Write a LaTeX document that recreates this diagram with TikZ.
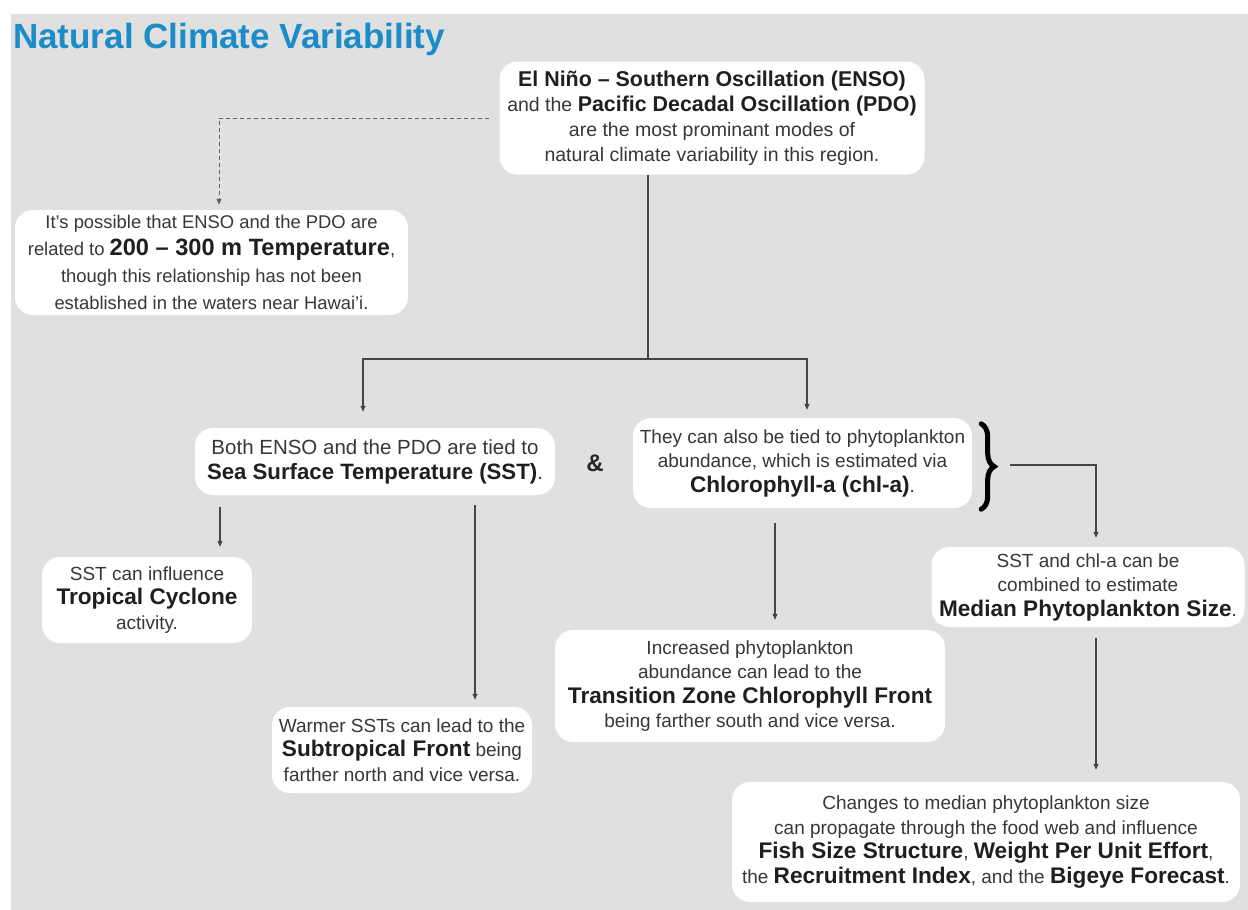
\documentclass[tikz,border=0pt]{standalone}
\usepackage{fontspec}
\setmainfont{Liberation Sans}
\usetikzlibrary{arrows.meta, decorations.pathreplacing}
\definecolor{ncvblue}{RGB}{28,140,200}
\definecolor{ncvgray}{RGB}{224,224,224}
\definecolor{ncvtext}{RGB}{55,55,55}
\definecolor{ncvline}{RGB}{70,70,70}
% bold key term, optional size
\newcommand{\hi}[2][22.6]{{\fontsize{#1}{24.5}\selectfont\bfseries\color{black!88}#2}}

\begin{document}
\begin{tikzpicture}[
    x=1pt, y=-1pt,
    >={Triangle[length=6pt,width=5pt]},
    %% ── node styles ──────────────────────────────────────────────────────────
    box/.style={
        fill=white, rounded corners=18pt, align=center,
        inner sep=4pt, text=ncvtext,
        font=\fontsize{19}{24.5}\selectfont
    },
    %% ── edge styles ──────────────────────────────────────────────────────────
    wire/.style={draw=ncvline, line width=1.1pt},
    link/.style={->, draw=ncvline, line width=1.1pt},
    guess/.style={->, draw=ncvline!85, line width=1pt, dash pattern=on 4pt off 3pt},
]

%% ── Background and title ────────────────────────────────────────────────────
\fill[white] (0,0) rectangle (1248,910);
\fill[ncvgray] (11,14) rectangle (1248,910);
\useasboundingbox (0,0) rectangle (1248,910);

\node[anchor=base west, inner sep=0pt, text=ncvblue,
      font=\fontsize{35}{40}\selectfont\bfseries] (title) at (13,48)
    {Natural Climate Variability};

%% ── Boxes ───────────────────────────────────────────────────────────────────
\node[box, minimum width=425pt, minimum height=113pt,
      font=\fontsize{19.5}{25}\selectfont] (enso) at (712,118)
    {\hi[21.4]{El Niño -- Southern Oscillation (ENSO)}\\
     and the \hi[21.4]{Pacific Decadal Oscillation (PDO)}\\
     are the most prominant modes of\\
     natural climate variability in this region.};

\node[box, minimum width=393pt, minimum height=105pt,
      font=\fontsize{18.4}{27}\selectfont] (temp) at (211.5,262.5)
    {It's possible that ENSO and the PDO are\\
     related to \hi[23.6]{200 -- 300 m Temperature},\\
     though this relationship has not been\\
     established in the waters near Hawai'i.};

\node[box, minimum width=360pt, minimum height=67pt,
      font=\fontsize{20.5}{25}\selectfont] (sst) at (375,461.5)
    {Both ENSO and the PDO are tied to\\
     \hi[22.2]{Sea Surface Temperature (SST)}.};

\node[font=\fontsize{24}{24}\selectfont\bfseries, text=black!85] (amp) at (595,463) {\&};

\node[box, minimum width=339pt, minimum height=90pt] (chl) at (802.5,463)
    {They can also be tied to phytoplankton\\
     abundance, which is estimated via\\
     \hi{Chlorophyll-a (chl-a)}.};

\node[box, minimum width=313pt, minimum height=80pt] (median) at (1088,587)
    {SST and chl-a can be\\
     combined to estimate\\
     \hi{Median Phytoplankton Size}.};

\node[box, minimum width=210pt, minimum height=86pt] (trop) at (147,600)
    {SST can influence\\
     \hi{Tropical Cyclone}\\
     activity.};

\node[box, minimum width=260pt, minimum height=86pt] (subt) at (402,750)
    {Warmer SSTs can lead to the\\
     \hi{Subtropical Front} being\\
     farther north and vice versa.};

\node[box, minimum width=390pt, minimum height=112pt] (tzcf) at (750,686)
    {Increased phytoplankton\\
     abundance can lead to the\\
     \hi{Transition Zone Chlorophyll Front}\\
     being farther south and vice versa.};

\node[box, minimum width=508pt, minimum height=120pt] (fish) at (986,842)
    {Changes to median phytoplankton size\\
     can propagate through the food web and influence\\
     \hi{Fish Size Structure}, \hi{Weight Per Unit Effort},\\
     the \hi{Recruitment Index}, and the \hi{Bigeye Forecast}.};

%% ── Connectors ──────────────────────────────────────────────────────────────
%% ENSO -> 200-300 m temperature (uncertain link)
\draw[guess, shorten >=5pt] ([xshift=-10pt]enso.west) -| ([xshift=7.5pt]temp.north);

%% ENSO -> SST and chl-a
\coordinate (split) at (648,359);
\draw[wire] ([xshift=-64pt]enso.south) -- (split);
\draw[link, shorten >=16pt] (split) -| ([xshift=-12pt]sst.north);
\draw[link, shorten >=8pt]  (split) -| ([xshift=4.5pt]chl.north);

%% SST -> tropical cyclone, subtropical front
\draw[link, shorten <=12pt, shorten >=10pt] ([xshift=-155pt]sst.south) -- ([xshift=73pt]trop.north);
\draw[link, shorten <=10pt, shorten >=7pt]  ([xshift=100pt]sst.south) -- ([xshift=73pt]subt.north);

%% chl-a -> TZCF
\draw[link, shorten <=15pt, shorten >=10pt] ([xshift=-27.5pt]chl.south) -- ([xshift=25pt]tzcf.north);

%% brace joining SST and chl-a -> median size
\draw[decorate, decoration={brace, amplitude=13pt}, line width=5pt, line cap=round, black]
    ([xshift=9pt, yshift=-6pt]chl.north east) -- ([xshift=9pt, yshift=-1pt]chl.south east);
\coordinate (brtip) at ([xshift=38pt, yshift=-2pt]chl.east);
\draw[link, shorten >=9pt] (brtip) -| ([xshift=8pt]median.north);

%% median size -> fish
\draw[link, shorten <=11pt, shorten >=12pt] ([xshift=8pt]median.south) -- ([xshift=110pt]fish.north);

\end{tikzpicture}
\end{document}
